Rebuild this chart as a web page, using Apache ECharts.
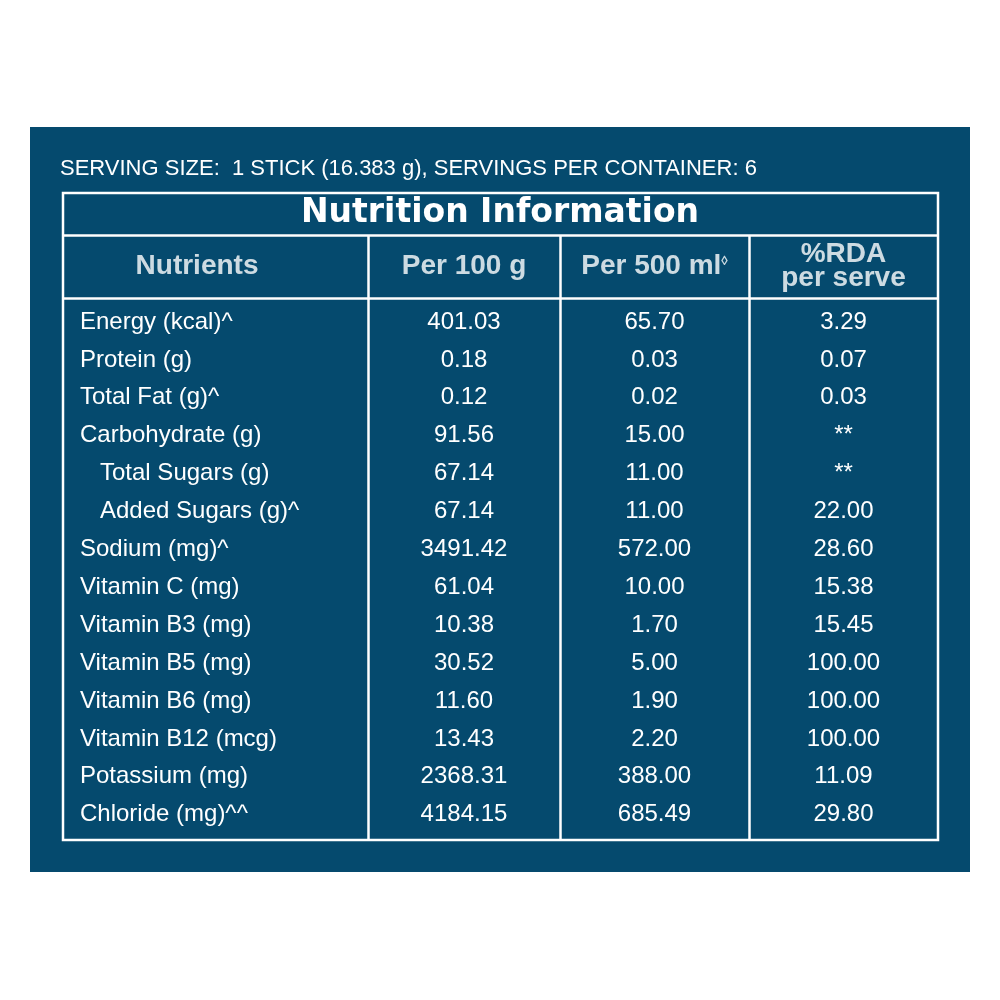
<!DOCTYPE html>
<html><head><meta charset="utf-8">
<script src="https://cdn.jsdelivr.net/npm/echarts@6/dist/echarts.min.js"></script>
<style>html,body{margin:0;padding:0;background:#fff}#c{width:1000px;height:1000px}</style>
</head><body><div id="c"></div>
<script>
const nutrients = ["Energy (kcal)^","Protein (g)","Total Fat (g)^","Carbohydrate (g)","   Total Sugars (g)","   Added Sugars (g)^","Sodium (mg)^","Vitamin C (mg)","Vitamin B3 (mg)","Vitamin B5 (mg)","Vitamin B6 (mg)","Vitamin B12 (mcg)","Potassium (mg)","Chloride (mg)^^"];
const per100g = ["401.03","0.18","0.12","91.56","67.14","67.14","3491.42","61.04","10.38","30.52","11.60","13.43","2368.31","4184.15"];
const per500ml = ["65.70","0.03","0.02","15.00","11.00","11.00","572.00","10.00","1.70","5.00","1.90","2.20","388.00","685.49"];
const rdaPerServe = ["3.29","0.07","0.03","**","**","22.00","28.60","15.38","15.45","100.00","100.00","100.00","11.09","29.80"];
const headers = ["Nutrients","Per 100 g","Per 500 ml","%RDA\nper serve"];
const titleText = "Nutrition Information";
const servingText = "SERVING SIZE:  1 STICK (16.383 g), SERVINGS PER CONTAINER: 6";

const BG = "#054a6e";
const FONT = "'Liberation Sans Narrow','Liberation Sans',Arial,sans-serif";
const colBounds = [0, 305, 497, 686, 875];
const titleH = 42, headH = 105, rowH = 37.9;
const rowY = i => headH + 24 + rowH * i;
const colCenter = c => (colBounds[c] + colBounds[c+1]) / 2;

function textSeries(vals, x, align) {
  return {
    type: 'scatter', symbolSize: 0, silent: true,
    itemStyle: {opacity: 1},
    data: vals.map((v, i) => ({value: [x, rowY(i)], name: v})),
    label: {show: true, position: 'inside', formatter: p => p.name,
      color: '#ffffff', textBorderWidth: 0, opacity: 1, fontFamily: FONT, fontSize: 24, align: align, verticalAlign: 'middle'}
  };
}
const headerData = headers.map((h, c) => ({value: [c === 0 ? 134 : colCenter(c), (titleH + headH) / 2], name: h}));

const chart = echarts.init(document.getElementById('c'));
chart.setOption({
  backgroundColor: '#fff',
  animation: false,
  graphic: [
    {type: 'rect', z: -10, shape: {x: 30, y: 127, width: 940, height: 745}, style: {fill: BG}},
    {type: 'text', left: 60, top: 158, style: {text: servingText, fill: '#fff', font: '22px ' + FONT}},
    {type: 'text', left: 'center', top: 197, style: {text: titleText, fill: '#fff', font: 'bold 33px "DejaVu Sans",Arial,sans-serif', textAlign: 'center'}}
  ],
  grid: {left: 63, top: 193, width: 875, height: 647, show: true, borderColor: '#fff', borderWidth: 2.5, backgroundColor: 'transparent'},
  xAxis: {type: 'value', min: 0, max: 875, show: false},
  yAxis: {type: 'value', min: 0, max: 647, inverse: true, show: false},
  series: [
    {
      type: 'scatter', symbolSize: 0, silent: true,
      data: headerData,
      label: {show: true, position: 'inside', formatter: p => p.dataIndex === 2 ? p.name + '{s|◊}' : p.name,
        color: '#fff', textBorderWidth: 0, fontFamily: FONT, fontWeight: 'bold', fontSize: 28, lineHeight: 24, align: 'center', verticalAlign: 'middle',
        rich: {s: {fontSize: 13, verticalAlign: 'top', color: '#fff', textBorderWidth: 0, padding: [0,0,14,0]}}},
      markLine: {
        silent: true, symbol: 'none', label: {show: false},
        lineStyle: {color: '#fff', width: 2.5, type: 'solid'},
        data: [
          [{coord: [0, titleH]}, {coord: [875, titleH]}],
          [{coord: [0, headH]}, {coord: [875, headH]}],
          [{coord: [colBounds[1], titleH]}, {coord: [colBounds[1], 647]}],
          [{coord: [colBounds[2], titleH]}, {coord: [colBounds[2], 647]}],
          [{coord: [colBounds[3], titleH]}, {coord: [colBounds[3], 647]}]
        ]
      }
    },
    textSeries(nutrients, 17, 'left'),
    textSeries(per100g, colCenter(1), 'center'),
    textSeries(per500ml, colCenter(2), 'center'),
    textSeries(rdaPerServe, colCenter(3), 'center')
  ]
});
</script></body></html>
